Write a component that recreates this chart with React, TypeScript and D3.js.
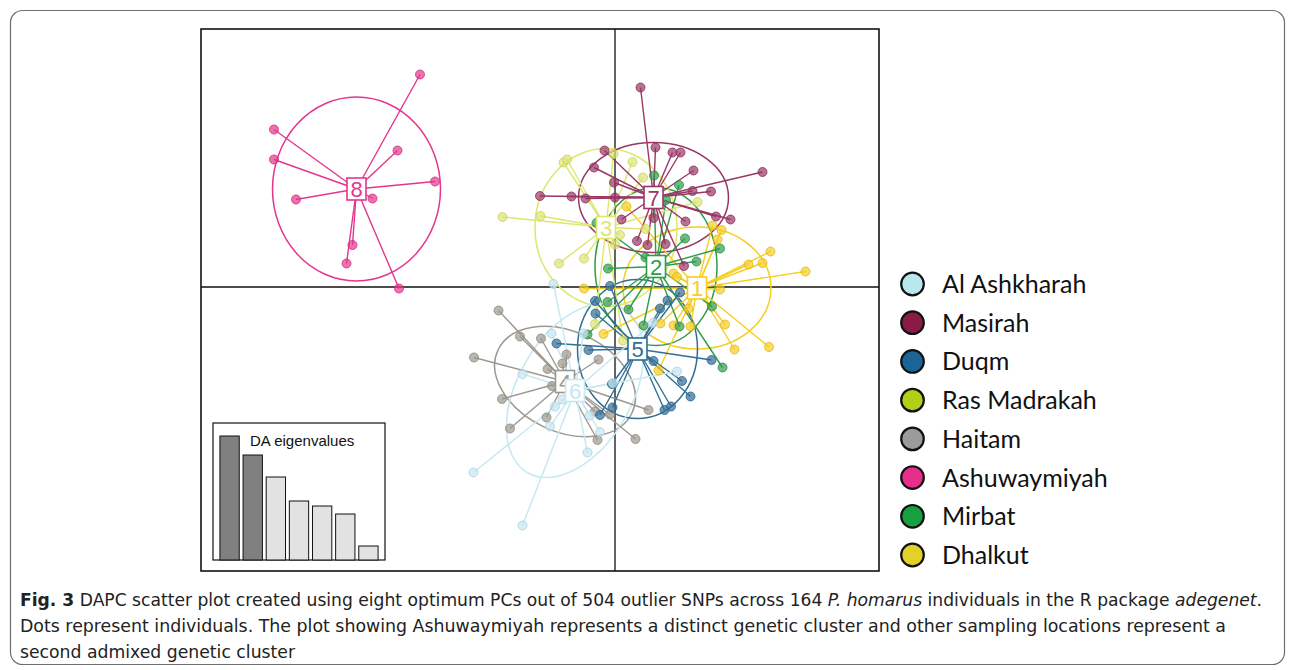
import React from "react";
import * as d3 from "d3";

const W = 1295;
const H = 670;

// ---- DAPC clusters (1..8) ----
const clusterLabels = ["1", "2", "3", "4", "5", "6", "7", "8"];
const clusterColors = ["#f7cd1f", "#2f9c4a", "#dde66f", "#9d988f", "#2f6e97", "#c5e8f2", "#9a3666", "#e6348f"];

const centroidLD1 = [1.64, 0.82, -0.18, -1.0, 0.45, -0.8, 0.77, -5.17];
const centroidLD2 = [-0.02, 0.41, 1.19, -1.89, -1.24, -2.07, 1.79, 1.96];
const ellipseA = [1.48, 1.22, 1.42, 1.48, 1.2, 1.9, 1.5, 1.68];
const ellipseB = [1.22, 1.58, 1.58, 1.0, 1.39, 1.14, 1.1, 1.84];
const ellipseAngle = [0, 0, 0, -25, 0, 60, 0, 0];

// individuals (LD1, LD2) per cluster
const ptsDhalkut: [number, number][] = [
  [0.23, 1.61], [2.13, 1.14], [1.95, 1.23], [2.05, 0.95], [3.11, 0.71], [2.67, 0.45], [2.95, 0.48],
  [3.81, 0.31], [1.17, 0.27], [1.24, 0.2], [2.1, -0.05], [-0.62, -0.03], [0.91, -0.73], [1.17, -0.77],
  [1.51, -0.79], [2.2, -0.75], [2.39, -1.25], [3.08, -1.2], [-0.23, -0.94], [0.87, -1.67], [1.47, -0.43],
];
const ptsMirbat: [number, number][] = [
  [0.78, 2.23], [1.28, 2.04], [1.02, 1.74], [-0.37, 1.28], [1.4, 0.97], [2.1, 0.77], [1.63, 0.51],
  [-0.14, 0.37], [0.61, 0.59], [-0.15, -0.3], [1.94, -0.39], [0.57, -0.77], [1.29, -0.79], [-0.55, -0.95],
  [2.15, -1.61], [0.27, -0.45],
];
const ptsRasMadrakah: [number, number][] = [
  [-1.03, 2.49], [-0.96, 2.55], [-0.03, 2.66], [0.35, 2.5], [0.56, 2.19], [-2.25, 1.4], [-1.49, 1.42],
  [-1.12, 0.47], [-0.62, 0.57], [1.65, 1.7], [0.61, 1.16], [0.1, 1.04], [-0.4, -0.74], [0.16, -1.07],
  [0.0, 0.85],
];
const ptsHaitam: [number, number][] = [
  [-2.33, -0.47], [-1.9, -0.99], [-1.48, -1.03], [-2.82, -1.41], [-0.97, -1.35], [-1.35, -1.64],
  [-1.05, -1.53], [-1.26, -1.98], [-2.26, -2.24], [-1.37, -2.61], [-2.1, -2.83], [-0.35, -3.06],
  [0.41, -3.04], [0.67, -2.46], [-0.4, -2.49], [-0.1, -2.55], [-0.33, -1.45],
];
const ptsDuqm: [number, number][] = [
  [-0.1, 0.02], [-0.4, -0.28], [-0.39, -0.53], [-1.17, -1.13], [-0.53, -1.26], [1.3, -0.11], [1.05, -0.27],
  [0.9, -0.43], [0.77, -1.48], [1.93, -1.46], [1.34, -1.88], [1.51, -2.19], [1.12, -2.39], [0.99, -2.46],
  [-0.3, -2.56], [-0.05, -2.41], [-0.06, -1.94],
];
const ptsAlAshkharah: [number, number][] = [
  [-1.23, 0.06], [-1.27, -0.93], [-0.63, -0.93], [-1.85, -1.74], [1.24, -1.69], [-2.83, -3.71],
  [-1.85, -4.77], [-0.55, -3.31], [-0.3, -2.9], [-1.3, -2.79], [-1.2, -2.39], [-1.05, -2.25],
  [-0.51, -2.57], [0.76, -0.72], [-0.04, -1.92],
];
const ptsMasirah: [number, number][] = [
  [0.51, 3.99], [0.81, 2.79], [1.15, 2.69], [1.31, 2.69], [-0.21, 2.73], [-0.42, 2.39], [1.57, 2.33],
  [2.95, 2.3], [-0.02, 2.09], [1.55, 1.92], [1.92, 1.91], [-1.5, 1.82], [-0.87, 1.81], [-0.59, 1.77],
  [0.0, 1.79], [2.02, 1.41], [2.31, 1.35], [1.41, 1.31], [0.13, 1.35], [0.44, 0.92], [0.65, 0.84],
  [1.01, 0.86], [1.38, 0.42], [0.77, 1.38],
];
const ptsAshuwaymiyah: [number, number][] = [
  [-3.9, 4.25], [-6.82, 3.15], [-6.82, 2.55], [-4.35, 2.73], [-3.6, 2.11], [-6.38, 1.75], [-4.85, 1.77],
  [-5.25, 0.84], [-5.37, 0.47], [-4.32, -0.03],
];
const clusterPoints = [ptsDhalkut, ptsMirbat, ptsRasMadrakah, ptsHaitam, ptsDuqm, ptsAlAshkharah, ptsMasirah, ptsAshuwaymiyah];

// ---- DA eigenvalues inset ----
const eigenvalues = [124, 105, 83, 59, 54, 46, 14];
const retainedAxes = 2;

// ---- legend ----
const legendSites = ["Al Ashkharah", "Masirah", "Duqm", "Ras Madrakah", "Haitam", "Ashuwaymiyah", "Mirbat", "Dhalkut"];
const legendColors = ["#b7e8ee", "#8a1a46", "#1b6498", "#b0d216", "#9b9b9b", "#e62e8b", "#16a03e", "#e3d12a"];

// ---- caption ----
const captionLines = [
  [
    { t: "Fig. 3", s: "b" },
    { t: " DAPC scatter plot created using eight optimum PCs out of 504 outlier SNPs across 164 ", s: "n" },
    { t: "P. homarus", s: "i" },
    { t: " individuals in the R package ", s: "n" },
    { t: "adegenet", s: "i" },
    { t: ".", s: "n" },
  ],
  [
    { t: "Dots represent individuals. The plot showing Ashuwaymiyah represents a distinct genetic cluster and other sampling locations represent a", s: "n" },
  ],
  [{ t: "second admixed genetic cluster", s: "n" }],
];
const captionWidths = [1242, 1206, 275];

export default function App() {
  const plot = { left: 201, right: 879, top: 29, bottom: 571 };
  const x = d3.scaleLinear().domain([-8.28, 5.28]).range([plot.left, plot.right]);
  const y = d3.scaleLinear().domain([-5.68, 5.16]).range([plot.bottom, plot.top]);
  const k = x(1) - x(0);

  const inset = { left: 213, top: 423, right: 385, bottom: 560 };
  const bx = d3
    .scaleBand<number>()
    .domain(eigenvalues.map((_, i) => i))
    .range([218, 380])
    .paddingInner(0.165)
    .paddingOuter(0.0825);
  const by = d3.scaleLinear().domain([0, d3.max(eigenvalues) as number]).range([inset.bottom, 436]);

  const legendY = d3.scalePoint<number>().domain(legendSites.map((_, i) => i)).range([284, 555]);

  const capScale = 0.9;

  return (
    <svg width={W} height={H} style={{ position: "absolute", left: 0, top: 0 }}>
      <rect x={0} y={0} width={W} height={H} fill="#fff" />
      <rect x={10.5} y={10.5} width={1274} height={654} rx={12} fill="#fff" stroke="#6e6e6e" strokeWidth={1.2} />

      {/* plot frame */}
      <rect x={plot.left} y={plot.top} width={plot.right - plot.left} height={plot.bottom - plot.top} fill="#fff" stroke="#111" strokeWidth={1.6} />
      <line x1={x(0)} x2={x(0)} y1={plot.top} y2={plot.bottom} stroke="#111" strokeWidth={1.3} />
      <line x1={plot.left} x2={plot.right} y1={y(0)} y2={y(0)} stroke="#111" strokeWidth={1.3} />

      {/* ellipses */}
      {clusterLabels.map((_, g) => {
        const cx = x(centroidLD1[g]);
        const cy = y(centroidLD2[g]);
        return (
          <ellipse
            key={"e" + g}
            cx={cx}
            cy={cy}
            rx={ellipseA[g] * k}
            ry={ellipseB[g] * k}
            transform={`rotate(${-ellipseAngle[g]} ${cx} ${cy})`}
            fill="none"
            stroke={clusterColors[g]}
            strokeWidth={1.5}
          />
        );
      })}

      {/* stars */}
      {clusterPoints.map((pts, g) => (
        <g key={"s" + g} stroke={clusterColors[g]} strokeWidth={1.4}>
          {pts.map((p, i) => (
            <line key={i} x1={x(centroidLD1[g])} y1={y(centroidLD2[g])} x2={x(p[0])} y2={y(p[1])} />
          ))}
        </g>
      ))}

      {/* points */}
      {clusterPoints.map((pts, g) => (
        <g key={"p" + g}>
          {pts.map((p, i) => (
            <circle
              key={i}
              cx={x(p[0])}
              cy={y(p[1])}
              r={4.5}
              fill={clusterColors[g]}
              fillOpacity={0.7}
              stroke={d3.color(clusterColors[g])!.darker(0.3).formatHex()}
              strokeOpacity={0.8}
              strokeWidth={1}
            />
          ))}
        </g>
      ))}

      {/* cluster labels */}
      {clusterLabels.map((lab, g) => {
        const cx = x(centroidLD1[g]);
        const cy = y(centroidLD2[g]);
        return (
          <g key={"l" + g}>
            <rect x={cx - 9.5} y={cy - 11} width={19} height={22} fill="#fff" stroke={clusterColors[g]} strokeWidth={1.6} />
            <text
              x={cx}
              y={cy + 8}
              textAnchor="middle"
              fontFamily="Liberation Sans, Arial, sans-serif"
              fontSize={22}
              fill={clusterColors[g]}
            >
              {lab}
            </text>
          </g>
        );
      })}

      {/* eigenvalue inset */}
      <rect x={inset.left} y={inset.top} width={inset.right - inset.left} height={inset.bottom - inset.top} fill="#fff" stroke="#111" strokeWidth={1.2} />
      {eigenvalues.map((v, i) => (
        <rect
          key={"b" + i}
          x={bx(i)}
          y={by(v)}
          width={bx.bandwidth()}
          height={inset.bottom - by(v)}
          fill={i < retainedAxes ? "#808080" : "#e2e2e2"}
          stroke="#111"
          strokeWidth={1}
        />
      ))}
      <text x={250} y={446} fontFamily="Liberation Sans, Arial, sans-serif" fontSize={15} fill="#111">
        DA eigenvalues
      </text>

      {/* legend */}
      {legendSites.map((s, i) => (
        <g key={"lg" + i}>
          <circle cx={912.5} cy={legendY(i)!} r={11.3} fill={legendColors[i]} stroke="#111" strokeWidth={2.2} />
          <text x={942} y={legendY(i)! + 9} fontFamily="Lato, 'Open Sans', sans-serif" fontSize={25} fill="#111">
            {s}
          </text>
        </g>
      ))}

      {/* caption */}
      <g transform={`translate(20,0) scale(${capScale},1)`}>
        {captionLines.map((line, li) => (
          <text
            key={"c" + li}
            x={0}
            y={606 + li * 26}
            fontFamily="'DejaVu Sans', sans-serif"
            fontSize={18.5}
            fill="#222"
            textLength={captionWidths[li] / capScale}
            lengthAdjust="spacingAndGlyphs"
          >
            {line.map((seg, si) => (
              <tspan key={si} fontWeight={seg.s === "b" ? "bold" : "normal"} fontStyle={seg.s === "i" ? "italic" : "normal"}>
                {seg.t}
              </tspan>
            ))}
          </text>
        ))}
      </g>
    </svg>
  );
}
